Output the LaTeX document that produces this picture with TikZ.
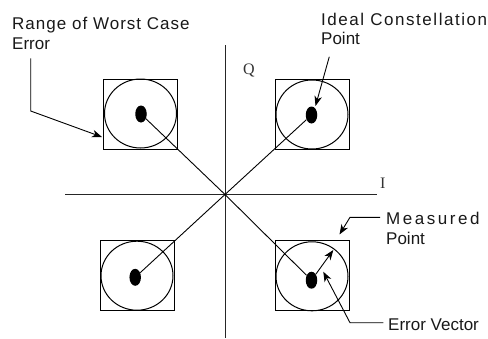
\documentclass[tikz,border=0pt]{standalone}
\usepackage{fontspec}
\setmainfont{Liberation Sans}
\newfontfamily\seriff{Liberation Serif}
\newfontfamily\sansA[LetterSpace=6]{Liberation Sans}
\newfontfamily\sansB[LetterSpace=9]{Liberation Sans}
\newfontfamily\sansC[LetterSpace=15]{Liberation Sans}
\usetikzlibrary{arrows.meta,shapes.geometric}
\begin{document}
\begin{tikzpicture}[x=1pt,y=-1pt,
  box/.style={draw,line width=1pt,minimum width=74pt,minimum height=70pt,inner sep=0pt},
  ring/.style={draw,ellipse,line width=1pt,minimum width=72pt,minimum height=69pt,inner sep=0pt},
  dot/.style={fill,ellipse,minimum width=11.5pt,minimum height=17pt,inner sep=0pt},
  axis/.style={line width=0.9pt,draw=black!85},
  ray/.style={line width=0.9pt},
  lbl/.style={anchor=base west,inner sep=0pt,text=black!90,font=\fontsize{17}{20}\selectfont},
  axlbl/.style={anchor=base west,inner sep=0pt,text=black!80,font=\seriff\fontsize{16}{20}\selectfont},
  pointer/.style={line width=0.9pt,-{Stealth[length=10pt,width=7.5pt,inset=3pt]}}
]
\useasboundingbox (0,0) rectangle (488,338);
\fill[white] (0,0) rectangle (488,338);

% axes
\coordinate (O) at (225,194.5);
\coordinate (Il) at (65,194.5);
\coordinate (Ir) at (377,194.5);
\coordinate (Qt) at (225,45);
\coordinate (Qb) at (225,338);
\draw[axis] (Il) -- (Ir);
\draw[axis] (Qt) -- (Qb);

% boxes and rings
\node[box] (boxTL) at (140,114) {};
\node[box] (boxTR) at (312,114) {};
\node[box] (boxBL) at (137,275.5) {};
\node[box] (boxBR) at (312,275.5) {};
\node[ring] (ringTL) at (140.5,113.5) {};
\node[ring] (ringTR) at (312,114.5) {};
\node[ring] (ringBL) at (137,275.7) {};
\node[ring] (ringBR) at (312,276.3) {};

% dots
\node[dot] (dotTL) at (141,114) {};
\node[dot] (dotTR) at (311.5,115) {};
\node[dot] (dotBL) at (135.2,277.3) {};
\node[dot] (dotBR) at (311.5,280.2) {};

% rays
\draw[ray] (O) -- (dotTL);
\draw[ray] (O) -- (dotTR);
\draw[ray] (O) -- (dotBL);
\draw[ray] (O) -- (dotBR);

% axis labels
\node[axlbl] (Qlab) at (243,74.5) {Q};
\node[axlbl] (Ilab) at (380,188.5) {I};

% labels
\node[lbl,font=\sansA\fontsize{17}{20}\selectfont] (rng1) at (12,29.5) {Range of Worst Case};
\node[lbl] (rng2) at (12,49.5) {Error};
\node[lbl,font=\sansB\fontsize{17}{20}\selectfont] (ide1) at (321,25) {Ideal Constellation};
\node[lbl] (ide2) at (321,44) {Point};
\node[lbl,font=\sansC\fontsize{17}{20}\selectfont] (mea1) at (386,224.3) {Measured};
\node[lbl] (mea2) at (386,244.3) {Point};
\node[lbl] (err) at (388,330) {Error Vector};

% pointers
\coordinate (rgS) at (30.7,58.3);
\coordinate (rgK) at (30.7,111);
\coordinate (rgT) at (102,137);
\draw[pointer] (rgS) -- (rgK) -- (rgT);

\coordinate (idS) at (329.3,56.7);
\coordinate (idT) at (315.5,106);
\draw[pointer] (idS) -- (idT);

\coordinate (meS) at (380,217.3);
\coordinate (meK) at (350,217.3);
\coordinate (meT) at (339.5,234.5);
\draw[pointer] (meS) -- (meK) -- (meT);

\coordinate (evS) at (383.3,322.7);
\coordinate (evK) at (350,322.7);
\coordinate (evT) at (323.3,271.7);
\draw[pointer] (evS) -- (evK) -- (evT);

% error vector
\coordinate (evTip) at (333.3,250);
\draw[pointer] (dotBR) -- (evTip);
\end{tikzpicture}
\end{document}
